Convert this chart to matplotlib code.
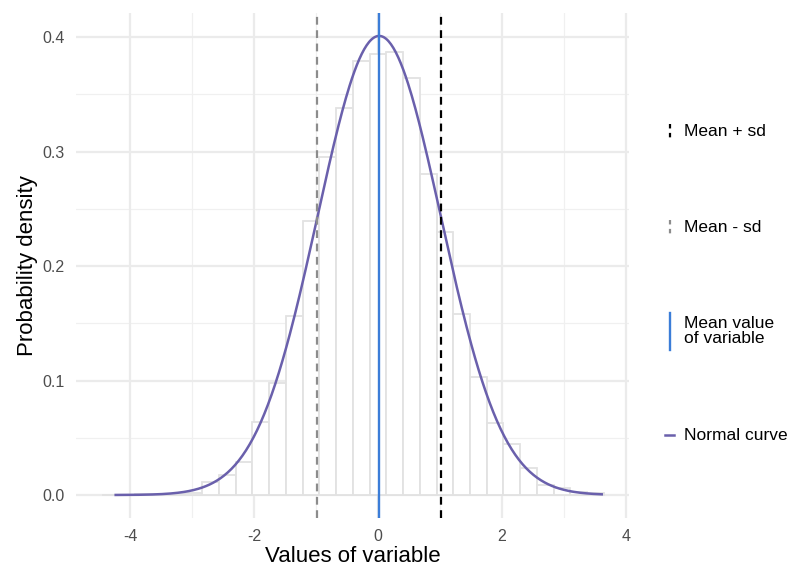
import numpy as np
import matplotlib
matplotlib.use("Agg")
import matplotlib.pyplot as plt
from matplotlib.lines import Line2D

plt.rcParams["font.family"] = ["Liberation Sans", "DejaVu Sans"]
plt.rcParams["axes.unicode_minus"] = False

# Histogram (density)
bin_width = 0.27
bin_centers = [-4.32, -4.05, -3.78, -3.51, -3.24, -2.97, -2.70, -2.43, -2.16, -1.89,
               -1.62, -1.35, -1.08, -0.81, -0.54, -0.27, 0.00, 0.27, 0.54, 0.81,
               1.08, 1.35, 1.62, 1.89, 2.16, 2.43, 2.70, 2.97, 3.24, 3.51]
densities = [0.0003, 0.0003, 0.0005, 0.0008, 0.0012, 0.0015, 0.0116, 0.0175, 0.029, 0.0635,
             0.098, 0.156, 0.239, 0.295, 0.338, 0.379, 0.385, 0.3866, 0.3645, 0.280,
             0.230, 0.158, 0.1033, 0.0632, 0.0445, 0.0239, 0.0087, 0.0058, 0.003, 0.0015]

# Summary statistics of the variable
data_min, data_max = -4.23, 3.61
mean_val = 0.02
sd_val = 0.995

c_blue = "#3b7dd8"
c_purple = "#6a60ac"
c_grey = "#8c8c8c"

fig = plt.figure(figsize=(7.91, 5.69), dpi=100)
ax = fig.add_axes([0.0961, 0.0896, 0.6991, 0.8876])

# grid like theme_minimal
for x in [-3, -1, 1, 3]:
    ax.axvline(x, color="#f0f0f0", lw=0.9, zorder=0)
for y in [0.05, 0.15, 0.25, 0.35]:
    ax.axhline(y, color="#f0f0f0", lw=0.9, zorder=0)
for x in [-4, -2, 0, 2, 4]:
    ax.axvline(x, color="#ebebeb", lw=1.6, zorder=0)
for y in [0, 0.1, 0.2, 0.3, 0.4]:
    ax.axhline(y, color="#ebebeb", lw=1.6, zorder=0)

ax.bar(bin_centers, densities, width=bin_width, color="white",
       edgecolor="#e2e2e2", linewidth=1.3, zorder=1)

# normal curve from the mean and sd
xs = np.linspace(data_min, data_max, 400)
ys = np.exp(-0.5 * ((xs - mean_val) / sd_val) ** 2) / (sd_val * np.sqrt(2 * np.pi))
ax.plot(xs, ys, color=c_purple, lw=1.8, zorder=3)

ax.axvline(mean_val + sd_val, color="black", lw=1.6, ls=(0, (3.5, 2.5)), zorder=4)
ax.axvline(mean_val - sd_val, color=c_grey, lw=1.6, ls=(0, (3.5, 2.5)), zorder=4)
ax.axvline(mean_val, color=c_blue, lw=1.7, zorder=4)

ax.set_xlim(-4.87, 4.05)
ax.set_ylim(-0.0201, 0.421)
ax.set_xticks([-4, -2, 0, 2, 4])
ax.set_yticks([0.0, 0.1, 0.2, 0.3, 0.4])
ax.set_yticklabels(["0.0", "0.1", "0.2", "0.3", "0.4"])
ax.tick_params(axis="x", length=0, labelsize=11.5, labelcolor="#4d4d4d", pad=8)
ax.tick_params(axis="y", length=0, labelsize=11.5, labelcolor="#4d4d4d", pad=8)
for s in ax.spines.values():
    s.set_visible(False)
ax.set_xlabel("Values of variable", fontsize=16, labelpad=1)
ax.set_ylabel("Probability density", fontsize=16, labelpad=3)

# legend drawn by hand to mimic ggplot spacing
H = 569.0
W = 791.0
def fx(px):
    return px / W
def fy(py):
    return 1 - py / H

fig.add_artist(Line2D([fx(670), fx(670)], [fy(124), fy(138)], color="black",
                      lw=1.6, ls=(0, (2, 2))))
fig.text(fx(684), fy(131), "Mean + sd", fontsize=12.5, va="center")
fig.add_artist(Line2D([fx(670), fx(670)], [fy(220), fy(234)], color=c_grey,
                      lw=1.6, ls=(0, (2, 2))))
fig.text(fx(684), fy(227), "Mean - sd", fontsize=12.5, va="center")
fig.add_artist(Line2D([fx(670), fx(670)], [fy(313), fy(350)], color=c_blue, lw=1.7))
fig.text(fx(684), fy(331), "Mean value\nof variable", fontsize=12.5, va="center",
         linespacing=1.0)
fig.add_artist(Line2D([fx(665), fx(674)], [fy(435), fy(435)], color=c_purple, lw=1.8))
fig.text(fx(684), fy(435), "Normal curve", fontsize=12.5, va="center")

fig.savefig("out.png", dpi=100)
